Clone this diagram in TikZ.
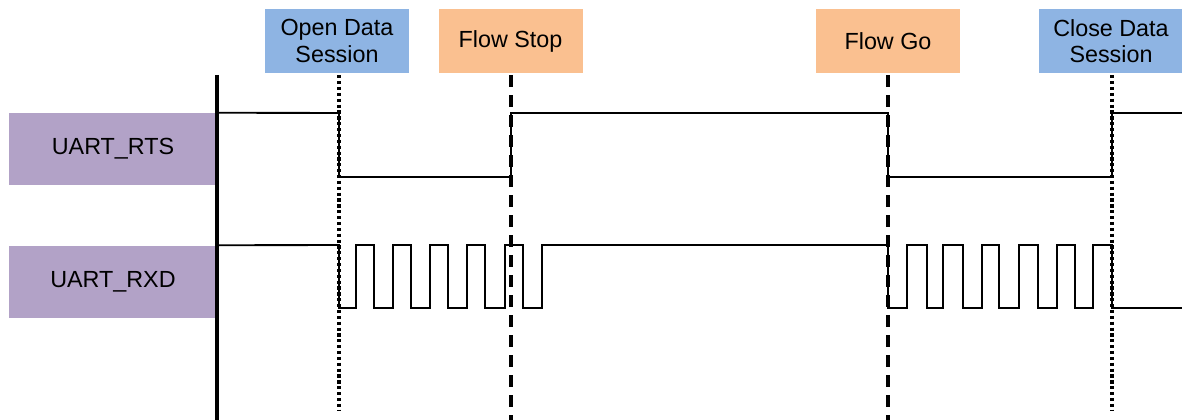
\documentclass[tikz,border=0pt]{standalone}
\usepackage{fontspec}
\setmainfont{Liberation Sans}
\usetikzlibrary{positioning}

\definecolor{sigpurple}{RGB}{178,162,199}
\definecolor{sessblue}{RGB}{142,180,227}
\definecolor{floworange}{RGB}{250,192,144}

\begin{document}
\begin{tikzpicture}[
    x=0.75pt, y=-0.75pt,
    signal/.style={rectangle, fill=sigpurple, minimum width=156pt, minimum height=54pt, inner sep=0pt, font=\fontsize{17.5}{20}\selectfont},
    event/.style={rectangle, minimum width=108pt, minimum height=48pt, inner sep=0pt, align=center, font=\fontsize{17.5}{20}\selectfont},
    session/.style={event, fill=sessblue},
    flow/.style={event, fill=floworange},
    wave/.style={line width=1.4pt, line join=miter},
    sessline/.style={line width=2.4pt, dash pattern=on 2.4pt off 2pt, shorten <=1.5pt},
    flowline/.style={line width=2.6pt, dash pattern=on 9pt off 6pt, shorten <=1.5pt}
]
\useasboundingbox (0,0) rectangle (1182,420);

% Signal names
\node[signal] (rts) at (113,149) {UART\_RTS};
\node[signal, below=45pt of rts] (rxd) {UART\_RXD};

% Events
\node[session] (open) at (337,41) {Open Data\\Session};
\node[flow, right=21.75pt of open] (stop) {Flow Stop};
\node[flow] (go) at (888,41) {Flow Go};
\node[session] (close) at (1111,41) {Close Data\\Session};

% Time axis
\coordinate (axtop) at (217,75);
\coordinate (axbot) at (217,420);
\draw[line width=2.6pt] (axtop) -- (axbot);

% Event markers
\coordinate (openend) at (339,410);
\coordinate (stopend) at (511,420);
\coordinate (goend) at (888,420);
\coordinate (closeend) at (1112,410);
\draw[sessline] (open.south -| openend) -- (openend);
\draw[flowline] (stop.south -| stopend) -- (stopend);
\draw[flowline] (go.south) -- (goend);
\draw[sessline] (close.south -| closeend) -- (closeend);

% UART_RTS
\draw[wave] (rts.north east) -- (339,113) -- (339,177) -- (511,177) -- (511,113)
    -- (888,113) -- (888,177) -- (1112,177) -- (1112,113) -- (1182,113);

% UART_RXD
\draw[wave] (rxd.north east) -- (339,245) -- (339,308)
    \foreach \u/\d in {356/374, 393/411, 430/448, 467/485, 505/523} {
        -- (\u,308) -- (\u,245) -- (\d,245) -- (\d,308)
    }
    -- (542,308) -- (542,245) -- (888,245) -- (888,308)
    \foreach \u/\d in {907/927, 943/963, 982/999, 1019/1038, 1057/1075} {
        -- (\u,308) -- (\u,245) -- (\d,245) -- (\d,308)
    }
    -- (1093,308) -- (1093,245) -- (1112,245) -- (1112,308) -- (1182,308);

\end{tikzpicture}
\end{document}
